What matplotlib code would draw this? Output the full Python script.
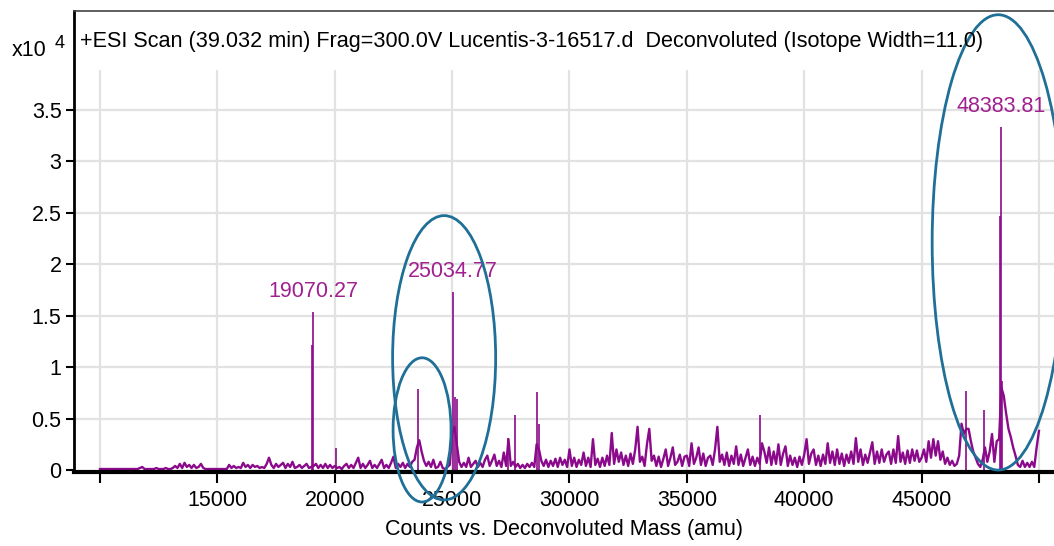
import numpy as np
import matplotlib.pyplot as plt
from matplotlib.patches import Ellipse

# deconvoluted spectrum: background level every 100 amu, in units of 100 counts
mass_start = 10000
mass_step = 100
noise_10k = [1, 1, 1, 1, 1, 1, 1, 1, 1, 1, 1, 1, 1, 1, 1, 1, 1, 2, 3, 1,
             1, 1, 1, 1, 2, 1, 1, 1, 2, 1, 1, 2, 4, 2, 6, 2, 7, 3, 5, 2,
             5, 2, 3, 6, 2, 1, 1, 1, 1, 1]
noise_15k = [1, 1, 1, 1, 1, 5, 2, 4, 2, 3, 2, 7, 3, 5, 2, 5, 3, 4, 2, 3,
             2, 6, 12, 5, 2, 6, 3, 5, 7, 2, 6, 3, 8, 2, 3, 5, 2, 4, 6, 2,
             3, 4, 6, 2, 5, 2, 6, 2, 5, 2]
noise_20k = [4, 2, 3, 1, 4, 6, 2, 5, 2, 7, 12, 2, 6, 2, 5, 9, 2, 5, 2, 6,
             10, 2, 5, 2, 7, 13, 2, 6, 3, 7, 2, 6, 3, 8, 10, 22, 29, 18, 9, 4,
             8, 3, 10, 2, 3, 8, 2, 1, 3, 5]
noise_25k = [35, 42, 25, 8, 3, 7, 3, 12, 3, 6, 9, 3, 7, 3, 10, 14, 4, 9, 15, 4,
             9, 3, 17, 4, 30, 4, 8, 3, 6, 2, 5, 2, 6, 3, 7, 3, 25, 20, 9, 4,
             10, 3, 9, 4, 11, 3, 12, 5, 10, 3]
noise_30k = [20, 4, 12, 3, 10, 5, 17, 4, 12, 3, 30, 5, 11, 3, 12, 4, 14, 5, 36, 6,
             20, 8, 17, 5, 14, 4, 16, 6, 20, 42, 8, 13, 4, 25, 40, 9, 14, 4, 13, 3,
             11, 20, 4, 12, 22, 5, 8, 15, 4, 13]
noise_35k = [14, 4, 26, 6, 12, 22, 5, 16, 4, 12, 14, 5, 20, 42, 8, 15, 5, 17, 4, 14,
             6, 23, 5, 15, 4, 12, 20, 5, 13, 4, 12, 6, 26, 18, 7, 22, 5, 18, 6, 25,
             5, 16, 23, 4, 14, 5, 12, 3, 13, 5]
noise_40k = [15, 30, 6, 16, 20, 5, 14, 4, 15, 6, 26, 7, 18, 5, 20, 6, 16, 4, 15, 7,
             18, 6, 31, 8, 20, 5, 15, 7, 17, 27, 6, 18, 7, 20, 8, 15, 18, 6, 20, 7,
             33, 8, 17, 6, 19, 7, 20, 9, 19, 8]
noise_45k = [12, 20, 8, 28, 12, 30, 14, 28, 10, 18, 6, 12, 5, 9, 4, 6, 14, 45, 35, 40,
             40, 28, 18, 12, 6, 3, 10, 22, 8, 18, 35, 8, 28, 30, 80, 72, 55, 40, 32, 22,
             14, 5, 3, 9, 3, 7, 3, 8, 3, 22, 38]

# labelled and other prominent peaks (mass in amu, counts x10^4)
peak_mass = [19050, 19070.27, 20050, 23560, 25034.77, 25110, 25190, 27380, 27700,
             28620, 28680, 38120, 46900, 47660, 48350, 48383.81, 48440]
peak_height = [1.21, 1.53, 0.21, 0.79, 1.73, 0.71, 0.69, 0.31, 0.53,
               0.76, 0.45, 0.53, 0.77, 0.58, 2.47, 3.33, 0.86]
labelled = [19070.27, 25034.77, 48383.81]

x_ticks = [10000, 15000, 20000, 25000, 30000, 35000, 40000, 45000, 50000]
x_ticklabels = ['', '15000', '20000', '25000', '30000', '35000', '40000', '45000', '']
y_ticks = [0, 0.5, 1, 1.5, 2, 2.5, 3, 3.5]
y_ticklabels = ['0', '0.5', '1', '1.5', '2', '2.5', '3', '3.5']

title = '+ESI Scan (39.032 min) Frag=300.0V Lucentis-3-16517.d  Deconvoluted (Isotope Width=11.0)'

plt.rcParams['font.family'] = ['Liberation Sans', 'DejaVu Sans']

spec_color = '#8B0A8B'
label_color = '#A0208F'
ring_color = '#1F6F97'

noise = noise_10k + noise_15k + noise_20k + noise_25k + noise_30k + noise_35k + noise_40k + noise_45k
masses = mass_start + mass_step * np.arange(len(noise))
counts = np.array(noise) / 100.0

fig = plt.figure(figsize=(10.54, 5.46), dpi=100)
ax = fig.add_axes([0.0702, 0.1355, 0.9298, 0.8443])

ax.set_xlim(8892, 50640)
ax.set_ylim(-0.019, 4.456)

# light grid
for xv in x_ticks:
    ax.axvline(xv, ymin=0, ymax=0.87, color='#E2E2E2', lw=1.6, zorder=0)
for yv in y_ticks[1:]:
    ax.axhline(yv, color='#E2E2E2', lw=1.6, zorder=0)

ax.plot(masses, counts, color=spec_color, lw=1.7, zorder=2)
ax.vlines(peak_mass, 0, peak_height, color=spec_color, lw=1.2, zorder=2)

for m in labelled:
    h = peak_height[peak_mass.index(m)]
    ax.text(m, h + 0.1, '%.2f' % m, color=label_color, fontsize=15.5,
            ha='center', va='bottom')

# highlight rings
rings = [(23720, 0.39, 2470, 1.40), (24660, 1.09, 4390, 2.76), (48262, 2.21, 5624, 4.42)]
for cx, cy, w, h in rings:
    ax.add_patch(Ellipse((cx, cy), w, h, fill=False, ec=ring_color, lw=2,
                         clip_on=False, zorder=3))

ax.set_xticks(x_ticks)
ax.set_xticklabels(x_ticklabels)
ax.set_yticks(y_ticks)
ax.set_yticklabels(y_ticklabels)
ax.tick_params(axis='x', length=8, width=1.5, labelsize=15.5, pad=5)
ax.tick_params(axis='y', length=6, width=1.5, labelsize=15.5, pad=3)

ax.spines['right'].set_visible(False)
ax.spines['top'].set_color('#444444')
ax.spines['top'].set_linewidth(1.2)
ax.spines['left'].set_linewidth(2)
ax.spines['bottom'].set_linewidth(3)

ax.text(0.006, 0.933, title, transform=ax.transAxes, fontsize=15.6,
        ha='left', va='center')
ax.set_xlabel('Counts vs. Deconvoluted Mass (amu)', fontsize=15.5, labelpad=6)

fig.text(0.0114, 0.908, 'x10', fontsize=15.5, ha='left', va='center')
fig.text(0.052, 0.92, '4', fontsize=13, ha='left', va='center')

fig.savefig('out.png', dpi=100)
